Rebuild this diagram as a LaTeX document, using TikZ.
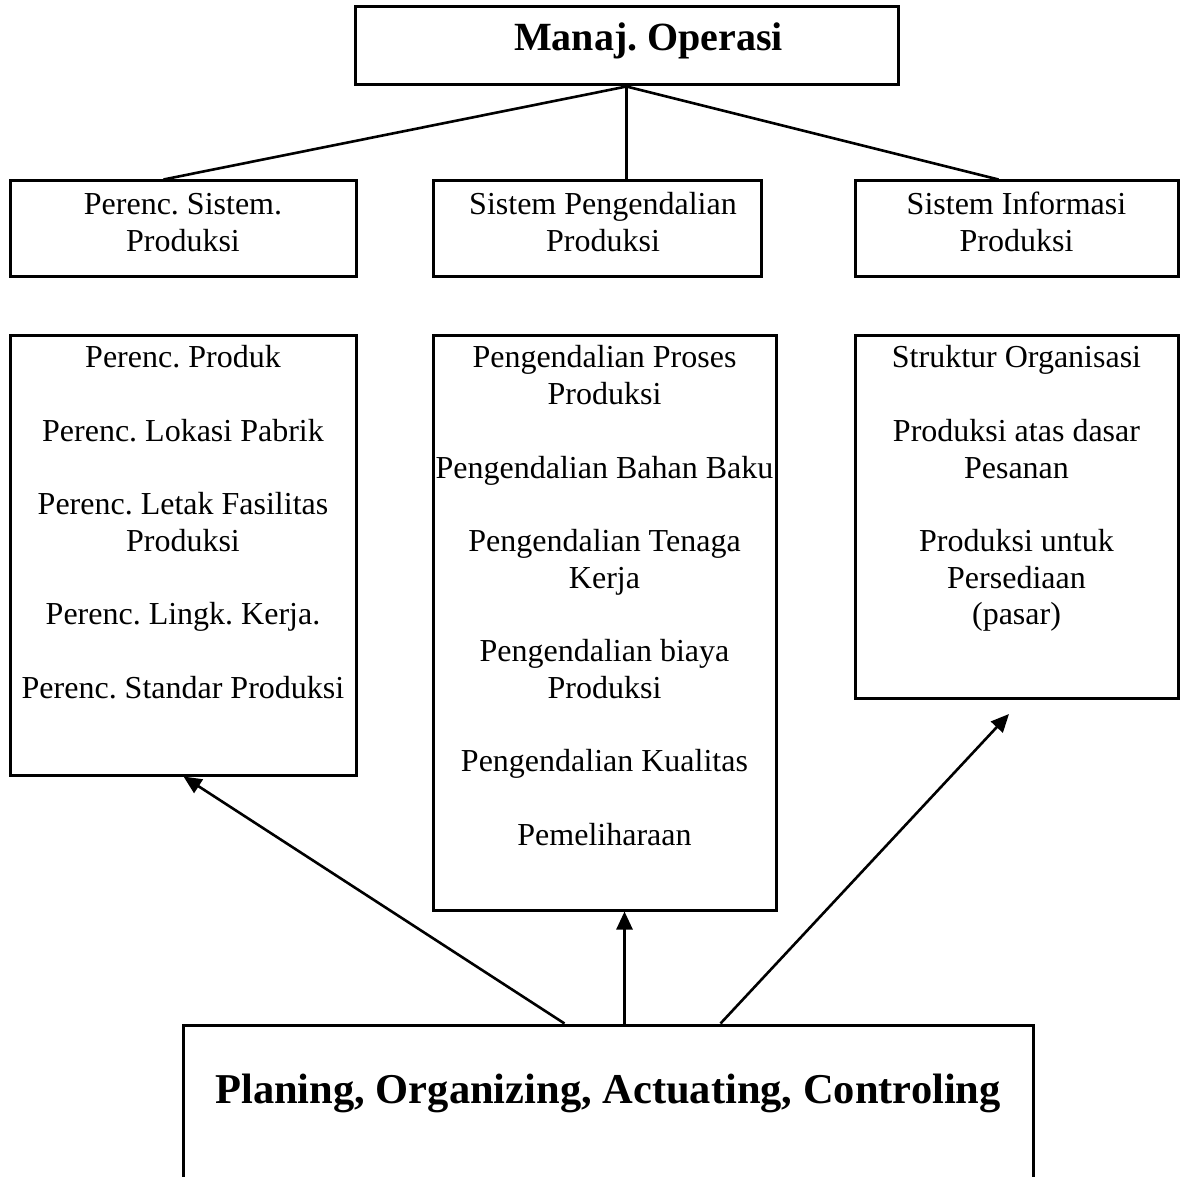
\documentclass[tikz,border=0pt]{standalone}
\usepackage{fontspec}
\setmainfont{Liberation Serif}
\usetikzlibrary{arrows.meta}
\newcommand{\bodyfont}{\fontsize{32}{36.7}\selectfont}
\frenchspacing
\tikzset{
  box/.style={draw, line width=3pt, inner sep=0pt, rectangle},
  link/.style={line width=2.6pt},
  arr/.style={line width=2.6pt, -{Triangle[length=18pt,width=16pt]}}
}
\begin{document}
\begin{tikzpicture}[x=1pt,y=-1pt]
\useasboundingbox (0,0) rectangle (1180,1177);
\clip (0,0) rectangle (1180,1177);
\fill[white] (0,0) rectangle (1180,1177);

\node[box] (top) at (626.5,46) {\parbox[c][78pt][t]{543pt}{\centering\frenchspacing\fontsize{40}{48}\selectfont\bfseries\vspace*{10.4pt}\hspace*{44pt}\strut Manaj. Operasi}};

\node[box] (r2a) at (183,228.5) {\parbox[c][95pt][t]{346pt}{\centering\frenchspacing\bodyfont\vspace*{8.3pt}\strut Perenc. Sistem.\\ Produksi}};
\node[box] (r2b) at (597,228.5) {\parbox[c][95pt][t]{328pt}{\centering\frenchspacing\bodyfont\vspace*{8.3pt}\hspace*{12pt}\strut Sistem Pengendalian\\ \hspace*{12pt}Produksi}};
\node[box] (r2c) at (1016.5,228.5) {\parbox[c][95pt][t]{323pt}{\centering\frenchspacing\bodyfont\vspace*{8.3pt}\strut Sistem Informasi\\ Produksi}};

\node[box] (r3a) at (183,555) {\parbox[c][440pt][t]{346pt}{\centering\frenchspacing\bodyfont\vspace*{7.3pt}\strut Perenc. Produk\\[36.7pt] Perenc. Lokasi Pabrik\\[36.7pt] Perenc. Letak Fasilitas\\ Produksi\\[36.7pt] Perenc. Lingk. Kerja.\\[36.7pt] Perenc. Standar Produksi}};
\node[box] (r3b) at (604.5,622.5) {\parbox[c][575pt][t]{343pt}{\centering\frenchspacing\bodyfont\vspace*{7.3pt}\strut Pengendalian Proses\\ Produksi\\[36.7pt] Pengendalian Bahan Baku\\[36.7pt] Pengendalian Tenaga\\ Kerja\\[36.7pt] Pengendalian biaya\\ Produksi\\[36.7pt] Pengendalian Kualitas\\[36.7pt] Pemeliharaan}};
\node[box] (r3c) at (1016.5,516.5) {\parbox[c][363pt][t]{323pt}{\centering\frenchspacing\bodyfont\vspace*{7.3pt}\strut Struktur Organisasi\\[36.7pt] Produksi atas dasar\\ Pesanan\\[36.7pt] Produksi untuk\\ Persediaan\\ (pasar)}};

\node[box] (bot) at (608,1112.5) {\parbox[c][175pt][t]{850pt}{\centering\fontsize{42.5}{50}\selectfont\bfseries\vspace*{43pt}\strut Planing, Organizing, Actuating, Controling}};

\draw[link] (top.south) -- ([xshift=155pt]r2a.north west);
\draw[link] (top.south) -- (top.south |- r2b.north);
\draw[link] (top.south) -- ([xshift=145pt]r2c.north west);

\coordinate (rtip) at (1009,714);
\draw[arr] ([xshift=383pt]bot.north west) -- ([xshift=175pt]r3a.south west);
\draw[arr] ([xshift=443pt]bot.north west) -- ([xshift=443pt]bot.north west |- r3b.south);
\draw[arr] ([xshift=539pt]bot.north west) -- (rtip);
\end{tikzpicture}
\end{document}
